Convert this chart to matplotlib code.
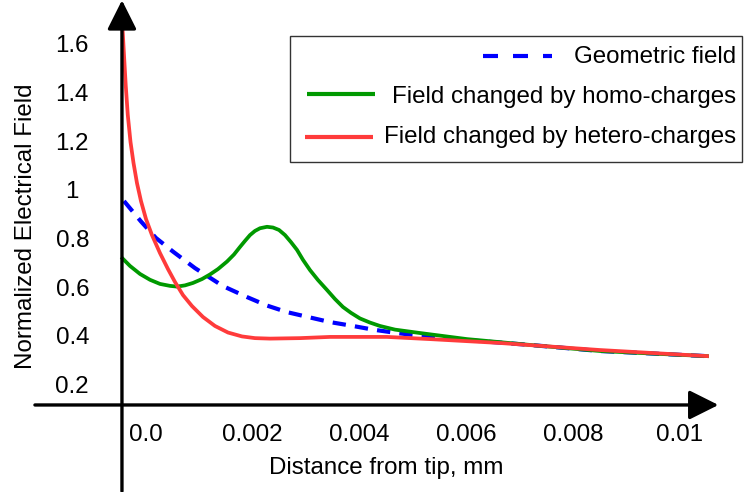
import matplotlib
matplotlib.use("Agg")
import matplotlib.pyplot as plt
from matplotlib.patches import Rectangle
from matplotlib.lines import Line2D
import numpy as np

plt.rcParams['font.family'] = ['Liberation Sans', 'DejaVu Sans']

# distances in units of 0.001 mm (scaled below)
geo_x = [-0.412, -0.094, 0.187, 0.506, 0.918, 1.442, 1.891, 2.266, 2.640, 3.071,
         3.446, 3.876, 4.251, 4.700, 5.075, 6.011, 7.191, 8.502, 10.506]
geo_y = [0.964, 0.880, 0.812, 0.756, 0.688, 0.614, 0.569, 0.534, 0.507, 0.485,
         0.466, 0.450, 0.435, 0.421, 0.411, 0.392, 0.372, 0.347, 0.326]

homo_x = [-0.440, -0.300, -0.112, 0.075, 0.262, 0.449, 0.581, 0.730, 0.880, 1.049,
          1.199, 1.348, 1.517, 1.648, 1.760, 1.854, 1.948, 2.041, 2.135, 2.266,
          2.378, 2.491, 2.603, 2.715, 2.828, 2.940, 3.071, 3.221, 3.390, 3.539,
          3.689, 3.839, 4.007, 4.195, 4.382, 4.663, 5.131, 6.011, 7.191, 8.502,
          9.625, 10.506]
homo_y = [0.728, 0.697, 0.664, 0.640, 0.623, 0.615, 0.612, 0.617, 0.627, 0.643,
          0.662, 0.684, 0.715, 0.744, 0.775, 0.800, 0.824, 0.841, 0.852, 0.858,
          0.855, 0.845, 0.824, 0.795, 0.763, 0.722, 0.680, 0.639, 0.598, 0.561,
          0.528, 0.504, 0.481, 0.464, 0.450, 0.435, 0.421, 0.396, 0.372, 0.347,
          0.335, 0.326]

hetero_x = [-0.440, -0.412, -0.380, -0.341, -0.290, -0.234, -0.169, -0.094, 0.0,
            0.112, 0.262, 0.412, 0.543, 0.693, 0.861, 1.067, 1.292, 1.536, 1.798,
            2.041, 2.322, 2.884, 3.446, 4.513, 5.318, 6.629, 8.502, 10.506]
hetero_y = [1.676, 1.565, 1.442, 1.318, 1.207, 1.121, 1.038, 0.964, 0.890, 0.824,
            0.750, 0.684, 0.631, 0.577, 0.532, 0.487, 0.450, 0.423, 0.407, 0.400,
            0.398, 0.400, 0.405, 0.405, 0.396, 0.380, 0.351, 0.326]

x_ticks = [0.0, 0.002, 0.004, 0.006, 0.008, 0.01]
x_tick_labels = ["0.0", "0.002", "0.004", "0.006", "0.008", "0.01"]
y_ticks = [0.2, 0.4, 0.6, 0.8, 1.0, 1.2, 1.4, 1.6]
y_tick_labels = ["0.2", "0.4", "0.6", "0.8", "1", "1.2", "1.4", "1.6"]

legend_labels = ["Geometric field", "Field changed by homo-charges",
                 "Field changed by hetero-charges"]

BLUE = "#0000ff"
GREEN = "#009900"
RED = "#ff3b3b"
FS = 17.4

W, H = 744, 492
fig = plt.figure(figsize=(W / 100, H / 100), dpi=100)
ax = fig.add_axes([0, 0, 1, 1])
ax.set_xlim(-0.002734, 0.011199)
ax.set_ylim(-0.233, 1.791)

sc = 1e-3
ax.plot(np.array(geo_x) * sc, geo_y, color=BLUE, lw=3.0, dashes=(3.2, 2.2),
        solid_capstyle="butt", zorder=3)
ax.plot(np.array(homo_x) * sc, homo_y, color=GREEN, lw=2.7, zorder=4,
        solid_joinstyle="round")
ax.plot(np.array(hetero_x) * sc, hetero_y, color=RED, lw=2.7, zorder=5,
        solid_joinstyle="round")

# axes through the data with arrow heads
y_axis_x = -0.00045
x_axis_y = 0.125
for side in ["top", "right", "left", "bottom"]:
    ax.spines[side].set_visible(False)
arrow = dict(arrowstyle="-|>,head_length=0.9,head_width=0.45", lw=2.4,
             color="black", mutation_scale=20, shrinkA=0, shrinkB=0)
ax.annotate("", xy=(y_axis_x, 1.79), xytext=(y_axis_x, -0.23),
            arrowprops=arrow, zorder=6)
ax.annotate("", xy=(0.01072, x_axis_y), xytext=(-0.00208, x_axis_y),
            arrowprops=arrow, zorder=6)

for xv, lab in zip(x_ticks, x_tick_labels):
    ax.text(xv, 0.0, lab, ha="center", va="center", fontsize=FS)
for yv, lab in zip(y_ticks, y_tick_labels):
    ax.text(-0.00138, yv, lab, ha="center", va="center", fontsize=FS)
ax.set_xticks([])
ax.set_yticks([])

fig.text(386 / W, 1 - 468 / H, "Distance from tip, mm", ha="center",
         va="center", fontsize=FS)
fig.text(26 / W, 1 - 226 / H, "Normalized Electrical Field", ha="center",
         va="center", rotation=90, fontsize=FS)

# legend drawn by hand: handles sit just left of right-aligned labels
ax.add_patch(Rectangle((290 / W, 1 - 162 / H), 452 / W, 126 / H,
                       transform=ax.transAxes, fill=False, ec="#333333",
                       lw=1.0, zorder=7))
leg_colors = [BLUE, GREEN, RED]
leg_line_px = [(483, 552, 56), (307, 375, 94), (305, 373, 137)]
leg_base_px = [63, 103, 143]
for i, lab in enumerate(legend_labels):
    x0, x1, yl = leg_line_px[i]
    ln = Line2D([x0 / W, x1 / W], [1 - yl / H, 1 - yl / H], transform=ax.transAxes,
                color=leg_colors[i], lw=3.0, zorder=8,
                solid_capstyle="butt")
    if i == 0:
        ln.set_dashes((3.6, 3.6))
    ax.add_line(ln)
    ax.text(736 / W, 1 - leg_base_px[i] / H, lab, transform=ax.transAxes,
            ha="right", va="baseline", fontsize=FS, zorder=8)

fig.savefig("out.png", dpi=100)
